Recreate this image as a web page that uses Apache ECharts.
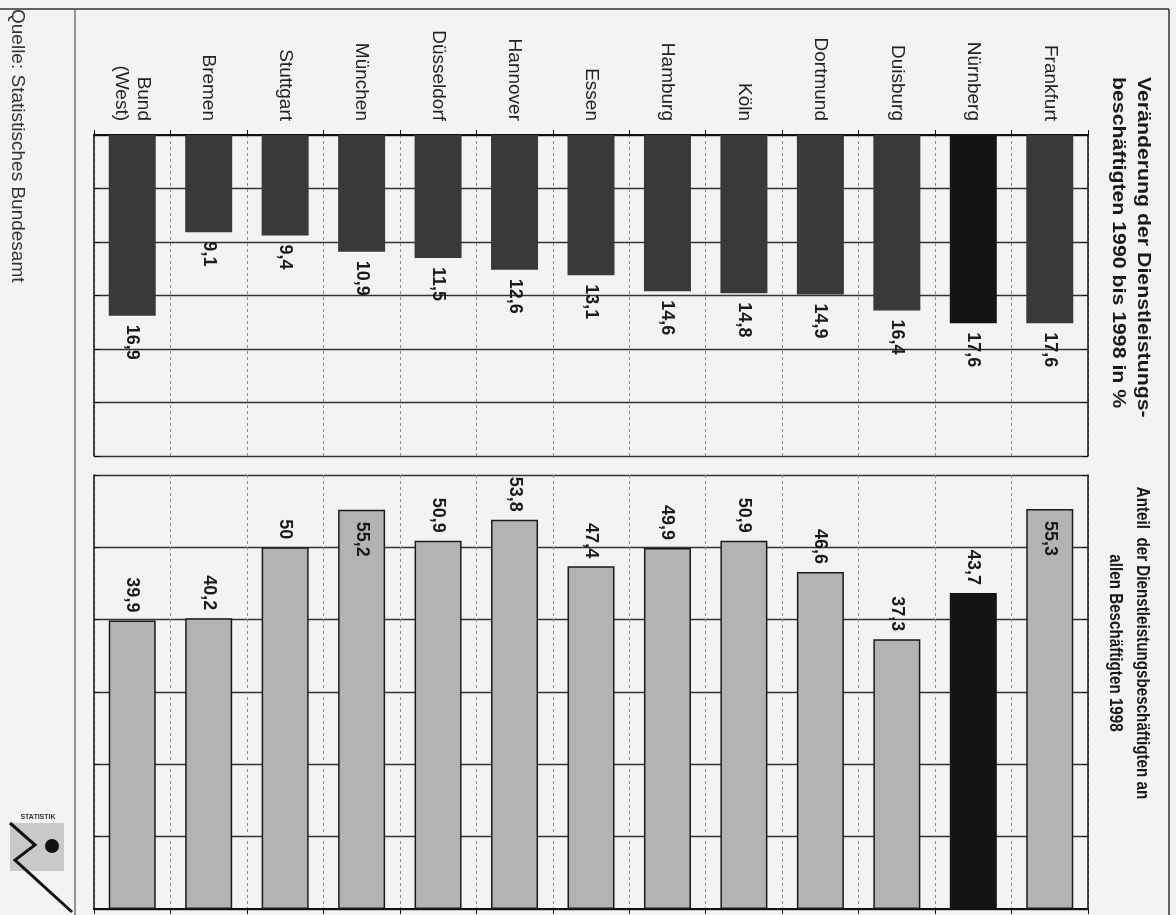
<!DOCTYPE html>
<html>
<head>
<meta charset="utf-8">
<title>Dienstleistungsbeschäftigte</title>
<script src="https://cdn.jsdelivr.net/npm/echarts@6/dist/echarts.min.js"></script>
<style>
  html, body { margin: 0; padding: 0; background: #f3f3f3; }
  #main { width: 1176px; height: 915px; }
</style>
</head>
<body>
<div id="main"></div>
<script>
// Reihenfolge wie in der Vorlage (Frankfurt zuerst, steht rechts)
const staedte = ["Frankfurt", "Nürnberg", "Duisburg", "Dortmund", "Köln", "Hamburg", "Essen", "Hannover", "Düsseldorf", "München", "Stuttgart", "Bremen", "Bund\n(West)"];
const veraenderung = [17.6, 17.6, 16.4, 14.9, 14.8, 14.6, 13.1, 12.6, 11.5, 10.9, 9.4, 9.1, 16.9];
const anteil = [55.3, 43.7, 37.3, 46.6, 50.9, 49.9, 47.4, 53.8, 50.9, 55.2, 50, 40.2, 39.9];
const hervorgehoben = "Nürnberg";
const titelOben = "Veränderung der Dienstleistungs-\nbeschäftigten 1990 bis 1998 in %";
const titelUnten = "Anteil  der Dienstleistungsbeschäftigten an\nallen Beschäftigten 1998";
const quelle = "Quelle: Statistisches Bundesamt";

const font = "Liberation Sans, Arial, sans-serif";
const komma = (p) => String(p.value).replace(".", ",");

const chart = echarts.init(document.getElementById("main"), null, { renderer: "canvas" });

/** gemeinsame Achsen-Teile */
const kategorieAchse = (grid, pos, extra) =>
    Object.assign(
        {
            type: "category",
            gridIndex: grid,
            position: pos,
            inverse: true,
            data: staedte,
            axisLine: { show: true, lineStyle: { color: "#111", width: 2 } },
            axisTick: { show: false },
            axisLabel: { show: false },
            splitLine: { show: false },
        },
        extra || {}
    );

const werteAchse = (grid, pos, max, interval, inverse, gitter) => ({
    type: "value",
    gridIndex: grid,
    position: pos,
    inverse: inverse,
    min: 0,
    max: max,
    interval: interval,
    axisLine: { show: true, lineStyle: { color: "#111", width: 1.5 } },
    axisTick: { show: true, inside: true, length: 6, lineStyle: { color: "#111" } },
    axisLabel: { show: false },
    splitLine: { show: gitter, lineStyle: { color: "#333", width: 1.3 } },
});

const gestrichelt = { show: true, lineStyle: { color: "#888", type: [3, 3], width: 1 } };

const datenOben = veraenderung.map((v, i) => {
    let item = { value: v };
    if (staedte[i] === hervorgehoben) item.itemStyle = { color: "#141414" };
    return item;
});

const datenUnten = anteil.map((v, i) => {
    let item = { value: v };
    if (staedte[i] === hervorgehoben) item.itemStyle = { color: "#141414", borderColor: "#141414" };
    // die höchsten Balken tragen ihre Zahl innen
    if (v > 55) item.label = { position: "insideTop", align: "left", distance: 12 };
    return item;
});

const option = {
    backgroundColor: "#f3f3f3",
    animation: false,
    textStyle: { fontFamily: font },
    grid: [
        { left: 94, right: 88, top: 135, height: 321 },
        { left: 94, right: 88, top: 475, height: 434 },
    ],
    xAxis: [
        kategorieAchse(0, "top", {
            axisTick: { show: true, length: 5, lineStyle: { color: "#111" } },
            splitLine: gestrichelt,
            axisLabel: {
                show: true,
                rotate: -90,
                align: "right",
                verticalAlign: "middle",
                margin: 14,
                fontSize: 19,
                lineHeight: 22,
                color: "#222",
                fontFamily: font,
            },
        }),
        kategorieAchse(0, "bottom", { axisLine: { show: true, lineStyle: { color: "#111", width: 1.5 } } }),
        kategorieAchse(1, "top", { splitLine: gestrichelt }),
        kategorieAchse(1, "bottom", { axisTick: { show: true, length: 5, lineStyle: { color: "#111" } } }),
    ],
    yAxis: [
        werteAchse(0, "left", 30, 5, true, true),
        werteAchse(0, "right", 30, 5, true, false),
        werteAchse(1, "left", 60, 10, false, true),
        werteAchse(1, "right", 60, 10, false, false),
    ],
    series: [
        {
            name: "Veränderung 1990-1998",
            type: "bar",
            xAxisIndex: 0,
            yAxisIndex: 0,
            barWidth: 47,
            data: datenOben,
            itemStyle: { color: "#393939" },
            label: {
                show: true,
                position: "bottom",
                distance: 9,
                rotate: -90,
                align: "left",
                verticalAlign: "middle",
                fontSize: 18,
                fontWeight: "bold",
                color: "#1a1a1a",
                fontFamily: font,
                formatter: komma,
            },
            z: 3,
        },
        {
            name: "Anteil 1998",
            type: "bar",
            xAxisIndex: 3,
            yAxisIndex: 2,
            barWidth: 47,
            data: datenUnten,
            itemStyle: { color: "#b3b3b3", borderColor: "#1a1a1a", borderWidth: 1.5 },
            label: {
                show: true,
                position: "top",
                distance: 8,
                rotate: -90,
                align: "right",
                verticalAlign: "middle",
                fontSize: 18,
                fontWeight: "bold",
                color: "#1a1a1a",
                fontFamily: font,
                formatter: komma,
            },
            z: 3,
        },
    ],
    graphic: [
        // Rahmen der Seite
        { type: "line", shape: { x1: 0, y1: 9, x2: 1169, y2: 9 }, style: { stroke: "#333", lineWidth: 1.5 } },
        { type: "line", shape: { x1: 1169, y1: 9, x2: 1169, y2: 915 }, style: { stroke: "#333", lineWidth: 1.5 } },
        { type: "line", shape: { x1: 75, y1: 9, x2: 75, y2: 915 }, style: { stroke: "#555", lineWidth: 1.2 } },
        {
            type: "text",
            x: 1131,
            y: 77,
            rotation: -Math.PI / 2,
            scaleX: 1.12,
            style: {
                text: titelOben,
                font: "bold 19px " + font,
                lineHeight: 25,
                textAlign: "left",
                textVerticalAlign: "middle",
                align: "left",
                verticalAlign: "middle",
                fill: "#1a1a1a",
            },
        },
        {
            type: "text",
            x: 1129,
            y: 643,
            rotation: -Math.PI / 2,
            scaleX: 0.8,
            style: {
                text: titelUnten,
                font: "bold 19px " + font,
                lineHeight: 27,
                textAlign: "center",
                textVerticalAlign: "middle",
                align: "center",
                verticalAlign: "middle",
                fill: "#1a1a1a",
            },
        },
        {
            type: "text",
            x: 17,
            y: 9,
            rotation: -Math.PI / 2,
            style: {
                text: quelle,
                font: "19px " + font,
                textAlign: "left",
                textVerticalAlign: "middle",
                align: "left",
                verticalAlign: "middle",
                fill: "#333",
            },
        },
        // Logo unten links (vereinfacht)
        { type: "rect", shape: { x: 10, y: 823, width: 54, height: 48 }, style: { fill: "#c9c9c9" } },
        { type: "circle", shape: { cx: 52, cy: 846, r: 7 }, style: { fill: "#111" } },
        {
            type: "polyline",
            shape: { points: [[10, 823], [35, 845], [15, 860], [72, 912]] },
            style: { stroke: "#111", lineWidth: 3, fill: null },
        },
        {
            type: "text",
            x: 38,
            y: 814,
            style: { text: "STATISTIK", font: "bold 7px " + font, textAlign: "center", align: "center", fill: "#333" },
        },
    ],
};

chart.setOption(option);
window.addEventListener("resize", () => {
    chart.resize();
});
</script>
</body>
</html>
